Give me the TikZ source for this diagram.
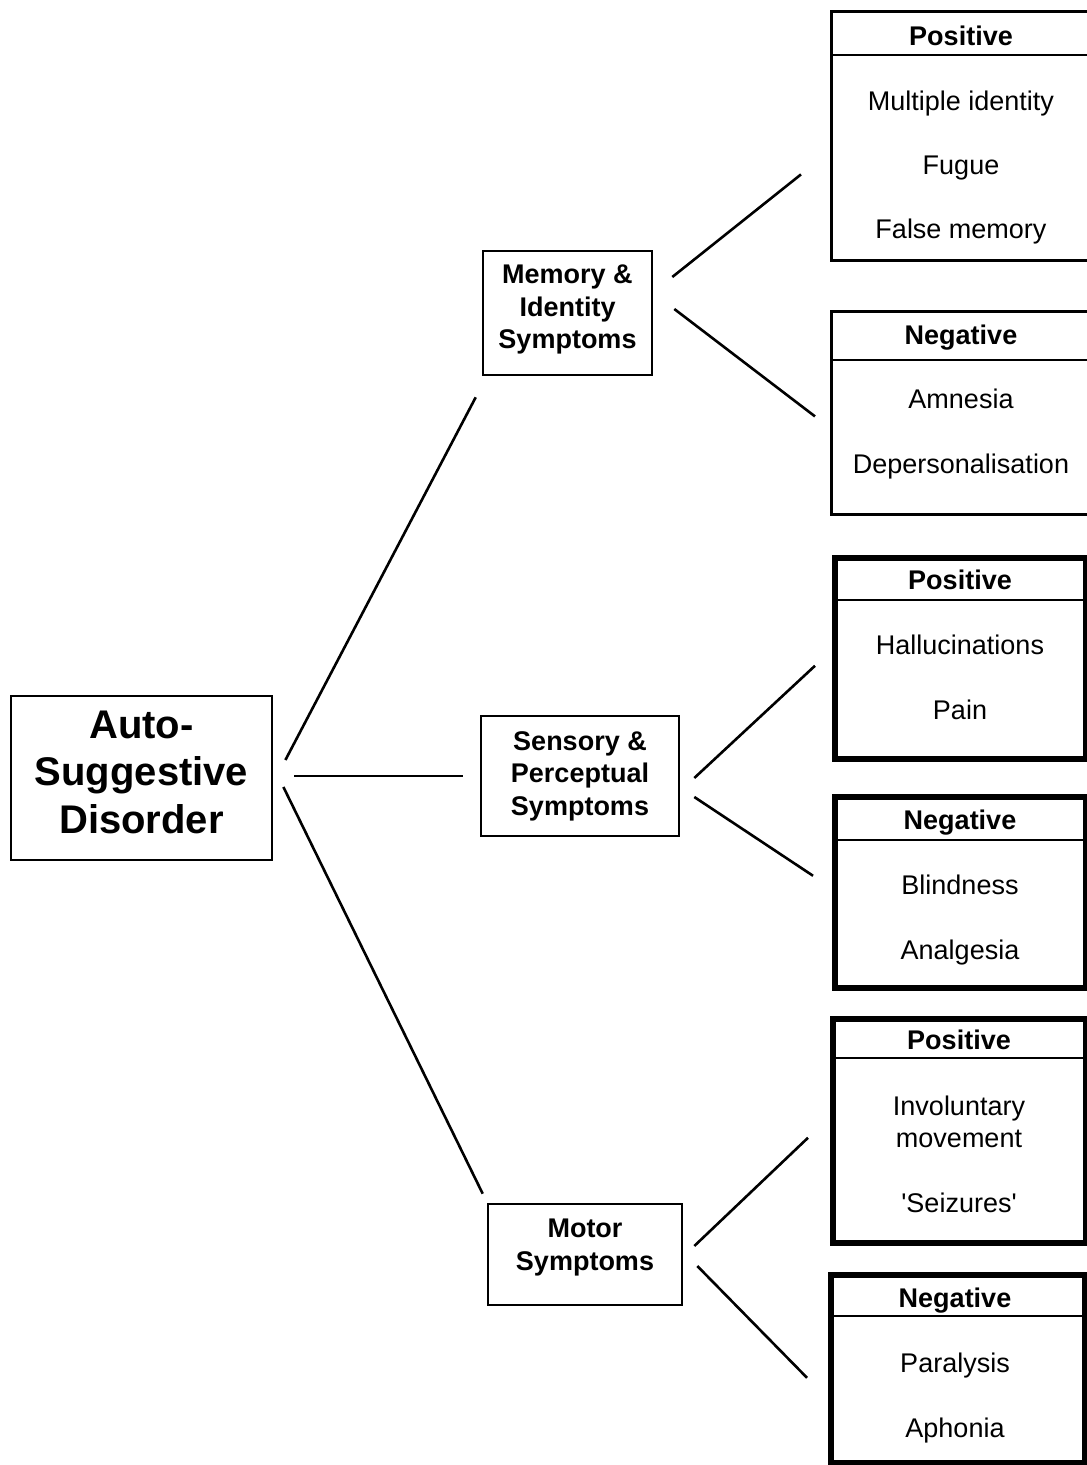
\documentclass[tikz,border=0pt]{standalone}
\usepackage{fontspec}
\setmainfont{Liberation Sans}
\begin{document}
\begin{tikzpicture}[x=1pt,y=-1pt,
  conn/.style={line width=2.6pt},
  midbox/.style={draw,line width=2.6pt,inner sep=0pt},
  midtext/.style={align=center,inner sep=0pt,font=\fontsize{27}{32.5}\selectfont\bfseries},
  thinbox/.style={draw,line width=2.8pt,anchor=north west,inner sep=0pt},
  thickbox/.style={draw,line width=5.5pt,anchor=north west,inner sep=0pt},
  div/.style={line width=2.4pt},
  head/.style={anchor=base,inner sep=0pt,font=\fontsize{27}{32}\selectfont\bfseries},
  item/.style={anchor=base,inner sep=0pt,font=\fontsize{27}{32}\selectfont},
]
\useasboundingbox (0,0) rectangle (1087,1465);
\fill[white] (0,0) rectangle (1087,1465);
\clip (0,0) rectangle (1087,1465);

% root
\node[draw,line width=2.8pt,minimum width=261pt,minimum height=164pt,inner sep=0pt] (root) at (141.5,778) {};
\node[align=center,inner sep=0pt,font=\fontsize{40}{47.5}\selectfont\bfseries] (roottext) at (141.5,772) {Auto-\\Suggestive\\Disorder};

% middle boxes
\node[midbox,minimum width=169pt,minimum height=124pt] (mem) at (567.5,313) {};
\node[midtext] (memtext) at (567.5,309.5) {Memory \&\\Identity\\Symptoms};
\node[midbox,minimum width=198pt,minimum height=120pt] (sens) at (580,776) {};
\node[midtext] (senstext) at (580,776) {Sensory \&\\Perceptual\\Symptoms};
\node[midbox,minimum width=194pt,minimum height=101pt] (mot) at (585,1254.5) {};
\node[midtext] (mottext) at (585,1247.5) {Motor\\Symptoms};

% right boxes
\node[thinbox,minimum width=270pt,minimum height=249pt] (p1) at (830,10) {};
\node[thinbox,minimum width=270pt,minimum height=203pt] (n1) at (830,310) {};
\node[thickbox,minimum width=251pt,minimum height=201pt] (p2) at (832,555) {};
\node[thickbox,minimum width=251pt,minimum height=191pt] (n2) at (832,794) {};
\node[thickbox,minimum width=253pt,minimum height=224pt] (p3) at (830,1016) {};
\node[thickbox,minimum width=254pt,minimum height=188pt] (n3) at (828,1272) {};

% dividers
\draw[div] (p1.west |- 0,55) -- (p1.east |- 0,55);
\draw[div] (n1.west |- 0,360) -- (n1.east |- 0,360);
\draw[div] (p2.west |- 0,600) -- (p2.east |- 0,600);
\draw[div] (n2.west |- 0,840) -- (n2.east |- 0,840);
\draw[div] (p3.west |- 0,1058) -- (p3.east |- 0,1058);
\draw[div] (n3.west |- 0,1316) -- (n3.east |- 0,1316);

% texts
\node[head] (p1h) at (961,45) {Positive};
\node[item] (p1a) at (961,110) {Multiple identity};
\node[item] (p1b) at (961,174) {Fugue};
\node[item] (p1c) at (961,238) {False memory};

\node[head] (n1h) at (961,344) {Negative};
\node[item] (n1a) at (961,408) {Amnesia};
\node[item] (n1b) at (961,473) {Depersonalisation};

\node[head] (p2h) at (960,589) {Positive};
\node[item] (p2a) at (960,654) {Hallucinations};
\node[item] (p2b) at (960,719) {Pain};

\node[head] (n2h) at (960,829) {Negative};
\node[item] (n2a) at (960,894) {Blindness};
\node[item] (n2b) at (960,959) {Analgesia};

\node[head] (p3h) at (959,1049) {Positive};
\node[item] (p3a) at (959,1115) {Involuntary};
\node[item] (p3b) at (959,1147) {movement};
\node[item] (p3c) at (959,1212) {\textquotesingle Seizures\textquotesingle};

\node[head] (n3h) at (955,1307) {Negative};
\node[item] (n3a) at (955,1372) {Paralysis};
\node[item] (n3b) at (955,1437) {Aphonia};

% connectors
\draw[conn] ([shift={(12,-18)}]root.east) -- ([shift={(-6,21)}]mem.south west);
\draw[conn] ([shift={(21,-2)}]root.east) -- ([shift={(-17,0)}]sens.west);
\draw[conn] ([shift={(10,9)}]root.east) -- ([shift={(-4,-9)}]mot.north west);

\draw[conn] ([shift={(19,-36)}]mem.east) -- ([shift={(-29,38.5)}]p1.west);
\draw[conn] ([shift={(21,-4)}]mem.east) -- ([shift={(-15,3.5)}]n1.west);

\draw[conn] ([shift={(14,2)}]sens.east) -- ([shift={(-17,7.5)}]p2.west);
\draw[conn] ([shift={(14,21)}]sens.east) -- ([shift={(-19,-16.5)}]n2.west);

\draw[conn] ([shift={(11,-8.5)}]mot.east) -- ([shift={(-22,7)}]p3.west);
\draw[conn] ([shift={(14,11.5)}]mot.east) -- ([shift={(-21,9)}]n3.west);
\end{tikzpicture}
\end{document}
